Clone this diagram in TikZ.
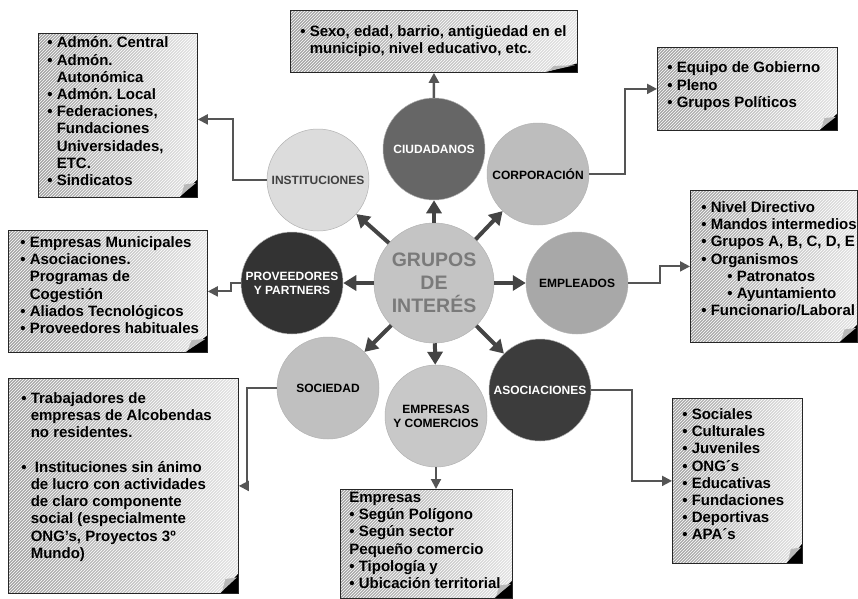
\documentclass[tikz,border=0pt]{standalone}
\usepackage{fontspec}
\setmainfont{Liberation Sans}
\usetikzlibrary{arrows.meta,patterns}

\definecolor{arrowgray}{HTML}{444444}
\definecolor{linegray}{HTML}{555555}
\definecolor{ciudcol}{HTML}{666666}
\definecolor{corpcol}{HTML}{BDBDBD}
\definecolor{instcol}{HTML}{DCDCDC}
\definecolor{provcol}{HTML}{333333}
\definecolor{emplcol}{HTML}{A8A8A8}
\definecolor{soccol}{HTML}{C0C0C0}
\definecolor{emprcol}{HTML}{C8C8C8}
\definecolor{asoccol}{HTML}{3C3C3C}
\definecolor{grupcol}{HTML}{C4C4C4}
\definecolor{grupfont}{HTML}{7A7A7A}

\frenchspacing
\newcommand{\bl}{\textbullet\ }
\newcommand{\nb}{\hphantom{\textbullet\ }}
% width, height, top space, left space, text
\newcommand{\boxtext}[5]{\parbox[c][#2][t]{#1}{\raggedright\leftskip=#4\rightskip=-12pt plus 1fil
  \vspace*{#3}\strut#5}}

\tikzset{
  group/.style={circle, minimum size=102pt, inner sep=0pt, align=center,
    draw=black!30, line width=0.5pt,
    font=\fontsize{12}{14}\selectfont\bfseries},
  gbox/.style={anchor=north west, draw=black!85, line width=0.8pt,
    inner sep=0pt,
    preaction={left color=gray!72, right color=gray!22},
    preaction={pattern=north east lines, pattern color=white, fill opacity=0.3},
    font=\fontsize{15}{17.2}\selectfont\bfseries},
  curl/.style 2 args={path picture={
    \fill[black] ([xshift=-#1]path picture bounding box.south east)
      -- ([yshift=#2]path picture bounding box.south east)
      -- (path picture bounding box.south east) -- cycle;
    \fill[gray!55] ([xshift=-0.9*#1,yshift=0.12*#2]path picture bounding box.south east)
      -- ([xshift=-0.72*#1,yshift=0.72*#2]path picture bounding box.south east)
      -- ([xshift=-0.08*#1,yshift=0.8*#2]path picture bounding box.south east) -- cycle;
  }},
  arr/.style={draw=arrowgray, line width=4pt, -{Triangle[length=13pt,width=15pt]}},
  conn/.style={draw=linegray, line width=2pt, -{Triangle[length=10pt,width=10pt]}},
}

\begin{document}
\begin{tikzpicture}[x=1pt, y=-1pt]
    \useasboundingbox (0,0) rectangle (858,598);

    % Centre and groups
    \node[group, minimum size=120pt, fill=grupcol, text=grupfont,
      font=\fontsize{19.5}{23}\selectfont\bfseries] (grupos) at (434,283) {GRUPOS\\DE\\INTERÉS};
    \node[group, fill=ciudcol, text=white] (ciud) at (434,149) {CIUDADANOS};
    \node[group, fill=corpcol] (corp) at (538,174) {CORPORACIÓN};
    \node[group, fill=instcol, text=black!75] (inst) at (318,180) {INSTITUCIONES};
    \node[group, fill=provcol, text=white] (prov) at (292,283) {PROVEEDORES\\Y PARTNERS};
    \node[group, fill=emplcol] (empl) at (577,283) {EMPLEADOS};
    \node[group, fill=soccol] (soc) at (328,388) {SOCIEDAD};
    \node[group, fill=emprcol] (empr) at (436,416) {EMPRESAS\\Y COMERCIOS};
    \node[group, fill=asoccol, text=white] (asoc) at (540,390) {ASOCIACIONES};

    \foreach \n in {ciud,corp,empl,asoc,empr,soc,prov,inst} {
        \draw[arr] (grupos) -- (\n);
    }

    % Boxes
    \node[gbox, curl={33pt}{9pt}] (bciud) at (290,10)
      {\boxtext{287pt}{62pt}{14pt}{10pt}{\bl Sexo, edad, barrio, antigüedad en el\\
       \nb municipio, nivel educativo, etc.}};
    \node[gbox, curl={18pt}{17pt}] (bcorp) at (657,47)
      {\boxtext{180pt}{83pt}{13.5pt}{10pt}{\bl Equipo de Gobierno\\ \bl Pleno\\ \bl Grupos Políticos}};
    \node[gbox, curl={18pt}{18pt}] (binst) at (38,33)
      {\boxtext{159pt}{164pt}{2.5pt}{9pt}{\bl Admón. Central\\ \bl Admón.\\ \nb Autonómica\\
       \bl Admón. Local\\ \bl Federaciones,\\ \nb Fundaciones\\ \nb Universidades,\\
       \nb ETC.\\ \bl Sindicatos}};
    \node[gbox, curl={18pt}{18pt}] (bempl) at (690,190)
      {\boxtext{167pt}{152pt}{10pt}{11pt}{\bl Nivel Directivo\\ \bl Mandos intermedios\\
       \bl Grupos A, B, C, D, E\\ \bl Organismos\\ \hspace*{26pt}\bl Patronatos\\
       \hspace*{26pt}\bl Ayuntamiento\\ \bl Funcionario/Laboral}};
    \node[gbox, curl={22pt}{17pt}] (bprov) at (8,230)
      {\boxtext{199pt}{122pt}{5pt}{12pt}{\bl Empresas Municipales\\ \bl Asociaciones.\\
       \nb Programas de\\ \nb Cogestión\\ \bl Aliados Tecnológicos\\ \bl Proveedores habituales}};
    \node[gbox, curl={18pt}{20pt}] (bsoc) at (8,378)
      {\boxtext{230pt}{215pt}{13pt}{13pt}{\bl Trabajadores de\\ \nb empresas de Alcobendas\\
       \nb no residentes.\\[17.2pt] \bl\ Instituciones sin ánimo\\ \nb de lucro con actividades\\
       \nb de claro componente\\ \nb social (especialmente\\ \nb ONG’s, Proyectos 3º\\ \nb Mundo)}};
    \node[gbox, curl={18pt}{18pt}] (bempr) at (340,489)
      {\boxtext{172pt}{109pt}{1pt}{9pt}{Empresas\\ \bl Según Polígono\\ \bl Según sector\\
       Pequeño comercio\\ \bl Tipología y\\ \bl Ubicación territorial}};
    \node[gbox, curl={16pt}{20pt}] (basoc) at (672,398)
      {\boxtext{130pt}{165pt}{9pt}{10pt}{\bl Sociales\\ \bl Culturales\\ \bl Juveniles\\ \bl ONG´s\\
       \bl Educativas\\ \bl Fundaciones\\ \bl Deportivas\\ \bl APA´s}};

    % Connectors
    \draw[conn, line width=2.5pt] (ciud) -- (bciud);
    \draw[conn] (corp.east) -- ++(36,0) |- (bcorp.west);
    \draw[conn] (inst.west) -- ++(-34,0) |- ([yshift=-4pt]binst.east);
    \draw[conn] (empl.east) -- ++(32,0) |- (bempl.west);
    \draw[conn] (prov.west) -- ++(-10,0) |- (bprov.east);
    \draw[conn] (soc.west) -- ++(-30,0) |- (bsoc.east);
    \draw[conn] (asoc.east) -- ++(41,0) |- (basoc.west);
    \draw[conn] (empr.south) -- (empr.south |- bempr.north);
\end{tikzpicture}
\end{document}
